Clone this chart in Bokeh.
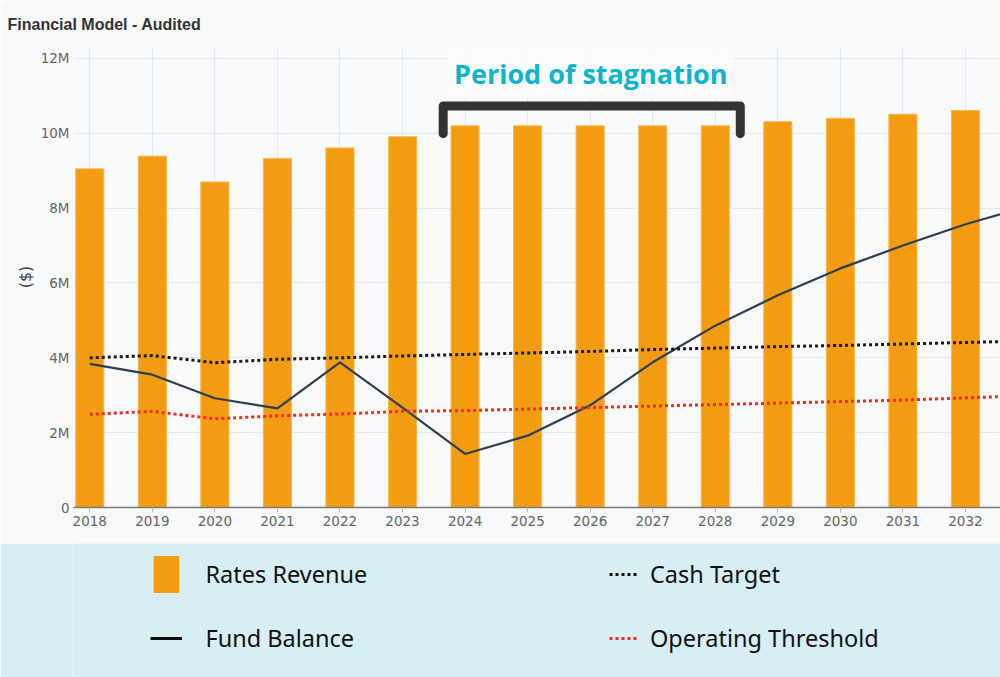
from bokeh.plotting import figure
from bokeh.models import (Range1d, FixedTicker, CustomJSTickFormatter, Legend, LegendItem,
                          Label, ColumnDataSource)
from bokeh.layouts import column
from bokeh.embed import file_html
from bokeh.resources import INLINE

# ---- data ----
years = [2018, 2019, 2020, 2021, 2022, 2023, 2024, 2025, 2026, 2027, 2028, 2029, 2030, 2031, 2032, 2033]
rates_revenue = [9.05e6, 9.39e6, 8.70e6, 9.33e6, 9.61e6, 9.91e6, 10.20e6, 10.20e6, 10.20e6, 10.20e6,
                 10.20e6, 10.31e6, 10.40e6, 10.51e6, 10.61e6, 10.70e6]
fund_balance = [3.84e6, 3.55e6, 2.92e6, 2.65e6, 3.88e6, 2.67e6, 1.43e6, 1.92e6, 2.73e6, 3.88e6,
                4.86e6, 5.67e6, 6.39e6, 7.00e6, 7.57e6, 8.05e6]
cash_target = [4.00e6, 4.06e6, 3.87e6, 3.96e6, 4.00e6, 4.05e6, 4.09e6, 4.13e6, 4.17e6, 4.22e6,
               4.26e6, 4.30e6, 4.33e6, 4.37e6, 4.41e6, 4.45e6]
operating_threshold = [2.49e6, 2.57e6, 2.37e6, 2.45e6, 2.50e6, 2.57e6, 2.59e6, 2.63e6, 2.67e6, 2.71e6,
                       2.75e6, 2.79e6, 2.83e6, 2.87e6, 2.93e6, 2.99e6]
x_ticks = years[:15]
y_ticks = [0, 2e6, 4e6, 6e6, 8e6, 10e6, 12e6]
title_text = "Financial Model - Audited"
annotation_text = "Period of stagnation"
stagnation_start, stagnation_end = 2024, 2028

BG = "#f8f9fb"
LEG_BG = "#d6eef4"
ORANGE = "#f39c12"

src = ColumnDataSource(dict(year=years, rev=rates_revenue, fund=fund_balance,
                            cash=cash_target, op=operating_threshold))

p = figure(width=1000, height=543, output_backend="svg", toolbar_location=None,
           x_range=Range1d(2017.74, 2032.56), y_range=Range1d(0, 12.32e6),
           min_border_left=73, min_border_right=0, min_border_top=46, min_border_bottom=36,
           background_fill_color=BG, border_fill_color=BG, outline_line_color=None)

p.title.text = title_text
p.title.text_font = "Liberation Sans"
p.title.text_font_size = "16px"
p.title.text_font_style = "bold"
p.title.text_color = "#333333"
p.title.offset = -66
p.title.standoff = 27

p.vbar(x="year", top="rev", width=0.45, source=src, fill_color=ORANGE,
       line_color="#f6b955", line_width=1)
p.line(x="year", y="fund", source=src, line_color="#2c3e50", line_width=2.2)
p.line(x="year", y="cash", source=src, line_color="#1a1a1a", line_width=3, line_dash="3 3")
p.line(x="year", y="op", source=src, line_color="#f62a1c", line_width=3, line_dash="3 3")

# grid
p.xgrid.grid_line_color = "#dfe8ea"
p.ygrid.grid_line_color = "#dfe8ea"
p.xgrid.ticker = FixedTicker(ticks=x_ticks)
p.ygrid.ticker = FixedTicker(ticks=y_ticks)

# axes
p.xaxis.ticker = FixedTicker(ticks=x_ticks)
p.xaxis.axis_line_color = "#7a7a7a"
p.xaxis.axis_line_width = 1.5
p.xaxis.major_tick_line_color = "#bbbbbb"
p.xaxis.major_tick_out = 5
p.xaxis.major_tick_in = 0
p.xaxis.minor_tick_line_color = None
p.xaxis.major_label_standoff = 3
p.yaxis.ticker = FixedTicker(ticks=y_ticks)
p.yaxis.formatter = CustomJSTickFormatter(code="return tick == 0 ? '0' : (tick/1e6).toFixed(0) + 'M';")
p.yaxis.axis_line_color = None
p.yaxis.major_tick_line_color = None
p.yaxis.minor_tick_line_color = None
p.yaxis.major_tick_out = 0
p.yaxis.major_tick_in = 0
p.yaxis.major_label_standoff = 4
p.yaxis.axis_label = "($)"
p.yaxis.axis_label_text_font = "DejaVu Sans"
p.yaxis.axis_label_text_font_size = "16px"
p.yaxis.axis_label_text_font_style = "normal"
p.yaxis.axis_label_text_color = "#444444"
p.yaxis.axis_label_standoff = 3
for ax in (p.xaxis, p.yaxis):
    ax.major_label_text_font = "DejaVu Sans"
    ax.major_label_text_font_size = "13.5px"
    ax.major_label_text_color = "#666666"

# annotation: bracket + label
bx = [stagnation_start - 0.35, stagnation_start - 0.35, stagnation_end + 0.40, stagnation_end + 0.40]
by = [9.99e6, 10.73e6, 10.73e6, 9.99e6]
p.line(x=bx, y=by, line_color="#333333", line_width=9, line_cap="round", line_join="round")
p.add_layout(Label(x=(stagnation_start + stagnation_end) / 2 + 0.01, y=11.6e6, text=annotation_text,
                   text_align="center", text_baseline="middle", text_font="Open Sans",
                   text_font_style="bold", text_font_size="27px", text_color="#0fb3cb",
                   background_fill_color="#fbfcfd", background_fill_alpha=0.85, padding=6))

# ---- legend band ----
q = figure(width=1000, height=134, output_backend="svg", toolbar_location=None,
           x_range=Range1d(0, 1), y_range=Range1d(0, 1),
           x_axis_location=None, y_axis_location=None,
           min_border=0, background_fill_color=LEG_BG, border_fill_color=LEG_BG,
           outline_line_color=None)
q.grid.visible = False
# legend swatches reuse the series data (outside this band's ranges, so only the swatches show)
r_rev = q.vbar(x="year", top="rev", width=0.5, source=src, fill_color=ORANGE, line_color=None)
r_fund = q.line(x="year", y="fund", source=src, line_color="#111111", line_width=3)
r_cash = q.line(x="year", y="cash", source=src, line_color="#111111", line_width=3, line_dash="3 3")
r_op = q.line(x="year", y="op", source=src, line_color="#f62a1c", line_width=3, line_dash="3 3")

common = dict(orientation="vertical", glyph_height=46, spacing=18, padding=0, margin=0,
              border_line_alpha=0, background_fill_alpha=0, label_text_font="Noto Sans",
              label_text_font_size="23.5px", label_text_color="#111111")
leg1 = Legend(items=[LegendItem(label="Rates Revenue", renderers=[r_rev]),
                     LegendItem(label="Fund Balance", renderers=[r_fund])],
              location=(149.5 - 73, 16), glyph_width=32, label_standoff=24, **common)
leg2 = Legend(items=[LegendItem(label="Cash Target", renderers=[r_cash]),
                     LegendItem(label="Operating Threshold", renderers=[r_op])],
              location=(609 - 73, 16), glyph_width=28, label_standoff=13, **common)
q.add_layout(leg1)
q.add_layout(leg2)

layout = column(p, q, spacing=0)
open("out.html", "w").write(file_html(layout, INLINE))
